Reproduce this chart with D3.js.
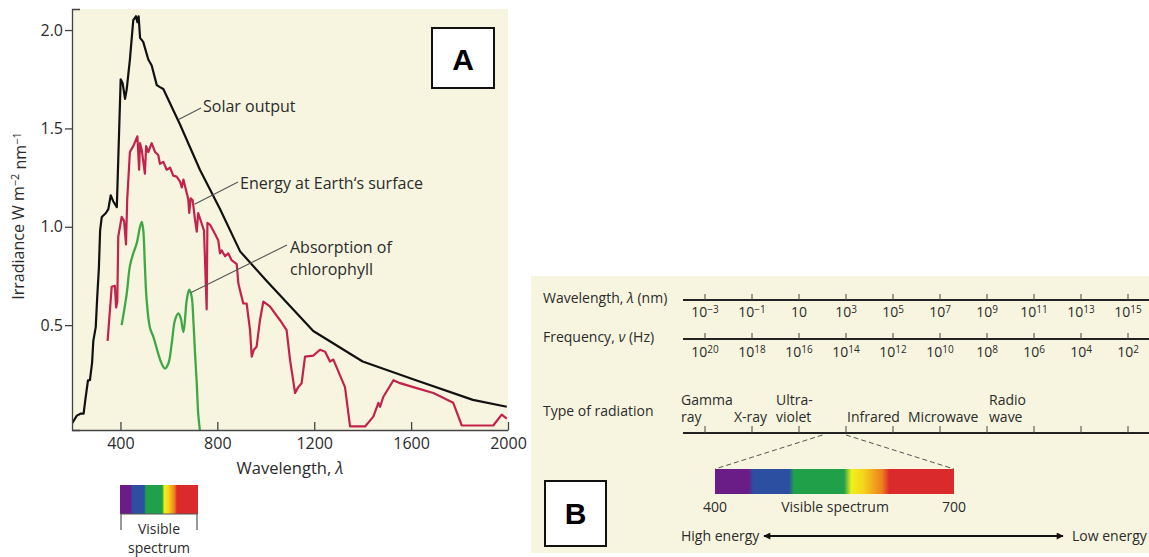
<!DOCTYPE html>
<html>
<head>
<meta charset="utf-8">
<script src="https://cdn.jsdelivr.net/npm/d3@7"></script>
<style>
  body { margin: 0; background: #fff; }
  svg { display: block; font-family: "Open Sans", "Noto Sans", sans-serif; }
</style>
</head>
<body>
<svg id="chart" width="1149" height="557"></svg>
<script>
// ---------- Panel A data: irradiance spectra ----------
const solarNm  = [200,220,235,248,255,266,274,283,288,298,304,311,316,323,340,350,360,370,385,401,409,419,426,439,453,464,470,475,481,494,515,529,550,563,577,646,728,811,894,1000,1196,1400,1620,1855,1995];
const solarIrr = [0.0,0.04,0.05,0.05,0.12,0.22,0.22,0.31,0.42,0.49,0.64,0.79,0.98,1.05,1.07,1.09,1.16,1.13,1.10,1.75,1.73,1.65,1.70,1.85,2.05,2.07,2.04,2.07,1.96,1.94,1.85,1.82,1.72,1.71,1.70,1.52,1.29,1.09,0.875,0.73,0.47,0.315,0.22,0.12,0.085];

const surfaceNm  = [347,364,377,382,387,391,405,415,423,428,439,453,470,477,481,488,501,506,515,529,543,556,563,577,591,605,618,632,646,653,660,680,684,690,698,708,715,721,745,756,759,770,790,804,811,818,832,845,859,880,887,907,921,935,942,951,962,976,990,1017,1059,1086,1100,1121,1134,1148,1162,1196,1224,1245,1265,1279,1327,1348,1410,1444,1465,1472,1485,1527,1554,1623,1692,1774,1809,1939,1974,1995];
const surfaceIrr = [0.42,0.695,0.70,0.59,0.62,0.95,1.05,1.03,0.91,1.14,1.38,1.41,1.46,1.29,1.425,1.39,1.27,1.41,1.38,1.425,1.38,1.365,1.32,1.33,1.29,1.30,1.26,1.255,1.23,1.20,1.24,1.14,1.07,1.145,1.135,1.035,0.975,1.07,0.98,0.58,1.02,1.01,0.965,0.93,0.865,0.88,0.85,0.865,0.83,0.81,0.71,0.61,0.61,0.475,0.34,0.375,0.39,0.525,0.62,0.595,0.525,0.475,0.325,0.155,0.185,0.205,0.34,0.345,0.375,0.365,0.315,0.325,0.185,-0.015,-0.015,0.035,0.105,0.085,0.135,0.22,0.205,0.18,0.155,0.105,-0.01,-0.01,0.045,0.025];

const chlorNm  = [405,426,439,453,467,481,488,494,501,508,522,536,556,570,584,598,612,625,639,649,660,674,684,694,701,708,715,721,728];
const chlorAbs = [0.50,0.66,0.80,0.865,0.915,1.0,1.025,0.985,0.80,0.63,0.485,0.44,0.355,0.305,0.28,0.305,0.41,0.525,0.56,0.535,0.465,0.63,0.68,0.645,0.525,0.355,0.205,0.05,-0.035];

const xTicksA = [400, 800, 1200, 1600, 2000];
const yTicksA = [0.5, 1.0, 1.5, 2.0];

// ---------- Panel B data: electromagnetic spectrum ----------
const wavelengthExp = [-3, -1, 1, 3, 5, 7, 9, 11, 13, 15];
const frequencyExp  = [20, 18, 16, 14, 12, 10, 8, 6, 4, 2];
const radiationTypes = [
  { lines: ["Gamma", "ray"],    x: 681 },
  { lines: ["", "X-ray"],       x: 734 },
  { lines: ["Ultra-", "violet"],x: 776 },
  { lines: ["", "Infrared"],    x: 847 },
  { lines: ["", "Microwave"],   x: 908 },
  { lines: ["Radio", "wave"],   x: 989 }
];
const visibleRange = [400, 700];

// colour bands of the visible spectrum (percent offsets along the bar)
const bandOffsets = [0, 14, 16, 31, 33, 54, 57, 62, 70, 73, 100];
const bandColors  = ["#6a1d87","#6a1d87","#2c4fa2","#2c4fa2","#21a04a","#21a04a","#eef01e","#f6d51a","#ee7d20","#db2a2b","#db2a2b"];

const svg = d3.select("#chart");
const ink = "#2b2b2b";
const cream = "#f7f5df";

const defs = svg.append("defs");
// shared gradient for both spectrum bars
const grad = defs.append("linearGradient").attr("id", "visGrad")
  .attr("x1", "0%").attr("x2", "100%").attr("y1", "0%").attr("y2", "0%");
bandOffsets.forEach((o, i) => grad.append("stop").attr("offset", o + "%").attr("stop-color", bandColors[i]));

// multi-line text as one element with tspans
function multiline(sel, lines, x, lh) {
  lines.forEach((l, i) => sel.append("tspan").attr("x", x).attr("dy", i === 0 ? 0 : lh).text(l));
  return sel;
}

// =================== Panel A ===================
const pa = { left: 72, right: 508, top: 9, bottom: 430 };
const x = d3.scaleLinear().domain([200, 2000]).range([pa.left, pa.right]);
const y = d3.scaleLinear().domain([-0.033, 2.107]).range([pa.bottom, pa.top]);

svg.append("rect").attr("x", pa.left).attr("y", pa.top)
  .attr("width", pa.right - pa.left).attr("height", pa.bottom - pa.top).attr("fill", cream);

defs.append("clipPath").attr("id", "plotClip").append("rect")
  .attr("x", pa.left).attr("y", pa.top).attr("width", pa.right - pa.left).attr("height", pa.bottom - pa.top);

const zip = (a, b) => a.map((d, i) => [d, b[i]]);
const lineJagged = d3.line().x(d => x(d[0])).y(d => y(d[1]));
const lineSmooth = d3.line().x(d => x(d[0])).y(d => y(d[1])).curve(d3.curveCatmullRom.alpha(0.5));

const plotG = svg.append("g").attr("clip-path", "url(#plotClip)");
plotG.append("path").datum(zip(chlorNm, chlorAbs)).attr("d", lineSmooth)
  .attr("fill", "none").attr("stroke", "#3fa846").attr("stroke-width", 2.3);
plotG.append("path").datum(zip(surfaceNm, surfaceIrr)).attr("d", lineJagged)
  .attr("fill", "none").attr("stroke", "#c3224c").attr("stroke-width", 2.2).attr("stroke-linejoin", "round");
plotG.append("path").datum(zip(solarNm, solarIrr)).attr("d", lineJagged)
  .attr("fill", "none").attr("stroke", "#111").attr("stroke-width", 2.2).attr("stroke-linejoin", "round");

// axes
const xAxis = svg.append("g").attr("transform", `translate(0,${pa.bottom})`)
  .call(d3.axisBottom(x).tickValues(xTicksA).tickFormat(d3.format("d"))
    .tickSizeInner(-8).tickSizeOuter(0).tickPadding(8));
const yAxis = svg.append("g").attr("transform", `translate(${pa.left},0)`)
  .call(d3.axisLeft(y).tickValues(yTicksA).tickFormat(d3.format(".1f"))
    .tickSizeInner(7).tickSizeOuter(-8).tickPadding(2));
[xAxis, yAxis].forEach(g => {
  g.select(".domain").attr("stroke", "#444").attr("stroke-width", 1.3);
  g.selectAll(".tick line").attr("stroke", "#444").attr("stroke-width", 1.3);
  g.selectAll(".tick text").attr("fill", ink).style("font-size", "16px")
    .style("font-family", "'Open Sans', sans-serif");
});

// axis titles
const xt = svg.append("text").attr("x", (pa.left + pa.right) / 2).attr("y", 474)
  .attr("text-anchor", "middle").attr("fill", ink).style("font-size", "16.5px");
xt.append("tspan").text("Wavelength, ");
xt.append("tspan").attr("font-style", "italic").text("λ");

const yt = svg.append("text").attr("transform", "translate(24,216) rotate(-90)")
  .attr("text-anchor", "middle").attr("fill", ink).style("font-size", "16px");
yt.append("tspan").text("Irradiance W m");
yt.append("tspan").attr("dy", "-0.45em").style("font-size", "11px").text("−2");
yt.append("tspan").attr("dy", "0.45em").text(" nm");
yt.append("tspan").attr("dy", "-0.45em").style("font-size", "11px").text("−1");

// annotations with leader lines
const notes = [
  { at: [640, 1.545], end: [201, 108], text: ["Solar output"], tx: 203, ty: 112 },
  { at: [706, 1.115], end: [238, 182], text: ["Energy at Earth‘s surface"], tx: 240, ty: 189 },
  { at: [690, 0.665], end: [287, 245], text: ["Absorption of", "chlorophyll"], tx: 290, ty: 253 }
];
notes.forEach(n => {
  svg.append("line").attr("x1", x(n.at[0])).attr("y1", y(n.at[1]))
    .attr("x2", n.end[0]).attr("y2", n.end[1]).attr("stroke", "#555").attr("stroke-width", 1.1);
  const t = svg.append("text").attr("x", n.tx).attr("y", n.ty)
    .attr("fill", ink).style("font-size", "16px");
  multiline(t, n.text, n.tx, 22);
});

// panel label A
svg.append("rect").attr("x", 432).attr("y", 28).attr("width", 62).attr("height", 60)
  .attr("fill", "#fff").attr("stroke", "#111").attr("stroke-width", 2);
svg.append("text").attr("x", 463).attr("y", 70).attr("text-anchor", "middle")
  .style("font-family", "'Liberation Sans', Arial, sans-serif").style("font-weight", "bold")
  .style("font-size", "30px").attr("fill", "#000").text("A");

// visible spectrum key
const key = { x: 120, y: 485, w: 78, h: 29 };
svg.append("rect").attr("x", key.x).attr("y", key.y).attr("width", key.w).attr("height", key.h)
  .attr("fill", "url(#visGrad)");
svg.append("path")
  .attr("d", `M${key.x + 1},${key.y + key.h + 16}V${key.y + key.h}H${key.x + key.w - 1}V${key.y + key.h + 16}`)
  .attr("fill", "none").attr("stroke", "#555").attr("stroke-width", 1.2);
const keyLabel = svg.append("text").attr("y", 533.5).attr("text-anchor", "middle")
  .attr("fill", ink).style("font-size", "14px");
multiline(keyLabel, ["Visible", "spectrum"], key.x + key.w / 2, 19.3);

// =================== Panel B ===================
svg.append("rect").attr("x", 531).attr("y", 276).attr("width", 1149 - 531).attr("height", 277)
  .attr("fill", cream);

const bx0 = 705, bx1 = 1128, lineStart = 683;
const xWave = d3.scaleLog().domain([1e-3, 1e15]).range([bx0, bx1]);
const xFreq = d3.scaleLog().domain([1e20, 1e2]).range([bx0, bx1]);
const fsB = "14px";

function powLabel(sel, exp) {
  sel.append("tspan").text("10");
  if (exp !== 1) sel.append("tspan").attr("dy", "-0.42em").style("font-size", "10px").text(String(exp).replace("-", "−"));
}

function scaleRow(yLine, title, exps, scale, labelY) {
  svg.append("text").attr("x", 543).attr("y", yLine + 3).attr("fill", ink).style("font-size", fsB)
    .call(t => title(t));
  svg.append("line").attr("x1", lineStart).attr("x2", 1149).attr("y1", yLine).attr("y2", yLine)
    .attr("stroke", "#222").attr("stroke-width", 2);
  exps.forEach(e => {
    const px = scale(Math.pow(10, e));
    svg.append("line").attr("x1", px).attr("x2", px).attr("y1", yLine).attr("y2", yLine - 6)
      .attr("stroke", "#444").attr("stroke-width", 1);
    const t = svg.append("text").attr("x", px).attr("y", labelY).attr("text-anchor", "middle")
      .attr("fill", ink).style("font-size", fsB);
    powLabel(t, e);
  });
}

scaleRow(300, t => { t.append("tspan").text("Wavelength, "); t.append("tspan").attr("font-style", "italic").text("λ"); t.append("tspan").text(" (nm)"); },
  wavelengthExp, xWave, 317);
scaleRow(339, t => { t.append("tspan").text("Frequency, "); t.append("tspan").attr("font-style", "italic").text("ν"); t.append("tspan").text(" (Hz)"); },
  frequencyExp, xFreq, 357);

// radiation types
const yType = 433;
svg.append("text").attr("x", 543).attr("y", 416).attr("fill", ink).style("font-size", fsB).text("Type of radiation");
radiationTypes.forEach(r => {
  const t = svg.append("text").attr("x", r.x).attr("y", r.lines[0] ? 405 : 422)
    .attr("fill", ink).style("font-size", fsB);
  multiline(t, r.lines.filter(l => l), r.x, 17);
});
svg.append("line").attr("x1", lineStart).attr("x2", 1149).attr("y1", yType).attr("y2", yType)
  .attr("stroke", "#222").attr("stroke-width", 2);
wavelengthExp.forEach(e => {
  const px = xWave(Math.pow(10, e));
  svg.append("line").attr("x1", px).attr("x2", px).attr("y1", yType).attr("y2", yType - 7)
    .attr("stroke", "#444").attr("stroke-width", 1);
});

// visible spectrum expanded
const xVis = d3.scaleLinear().domain(visibleRange).range([715, 954]);
const barTop = 469, barH = 25;
svg.append("line").attr("x1", xWave(1e2)).attr("y1", yType + 2).attr("x2", xVis(400)).attr("y2", barTop)
  .attr("stroke", "#555").attr("stroke-width", 1).attr("stroke-dasharray", "5,3");
svg.append("line").attr("x1", xWave(1e3)).attr("y1", yType + 2).attr("x2", xVis(700)).attr("y2", barTop)
  .attr("stroke", "#555").attr("stroke-width", 1).attr("stroke-dasharray", "5,3");
svg.append("rect").attr("x", xVis(400)).attr("y", barTop).attr("width", xVis(700) - xVis(400)).attr("height", barH)
  .attr("fill", "url(#visGrad)");
visibleRange.forEach(v => svg.append("text").attr("x", xVis(v)).attr("y", 512).attr("text-anchor", "middle")
  .attr("fill", ink).style("font-size", fsB).text(v));
svg.append("text").attr("x", 835).attr("y", 512).attr("text-anchor", "middle")
  .attr("fill", ink).style("font-size", fsB).text("Visible spectrum");

// energy arrow
["arrowEnd", "arrowStart"].forEach((id, i) => defs.append("marker").attr("id", id)
  .attr("viewBox", "0 0 10 10").attr("refX", 9).attr("refY", 5).attr("markerWidth", 9).attr("markerHeight", 7)
  .attr("markerUnits", "userSpaceOnUse").attr("orient", i === 0 ? "auto" : "auto-start-reverse")
  .append("path").attr("d", "M0,0L10,5L0,10z").attr("fill", "#111"));
svg.append("text").attr("x", 681).attr("y", 541).attr("fill", ink).style("font-size", fsB).text("High energy");
svg.append("line").attr("x1", 764).attr("x2", 1063).attr("y1", 536).attr("y2", 536)
  .attr("stroke", "#111").attr("stroke-width", 2)
  .attr("marker-end", "url(#arrowEnd)").attr("marker-start", "url(#arrowStart)");
svg.append("text").attr("x", 1072).attr("y", 541).attr("fill", ink).style("font-size", fsB).text("Low energy");

// panel label B
svg.append("rect").attr("x", 545).attr("y", 481).attr("width", 61).attr("height", 65)
  .attr("fill", "#fff").attr("stroke", "#111").attr("stroke-width", 2);
svg.append("text").attr("x", 575.5).attr("y", 524).attr("text-anchor", "middle")
  .style("font-family", "'Liberation Sans', Arial, sans-serif").style("font-weight", "bold")
  .style("font-size", "30px").attr("fill", "#000").text("B");
</script>
</body>
</html>
